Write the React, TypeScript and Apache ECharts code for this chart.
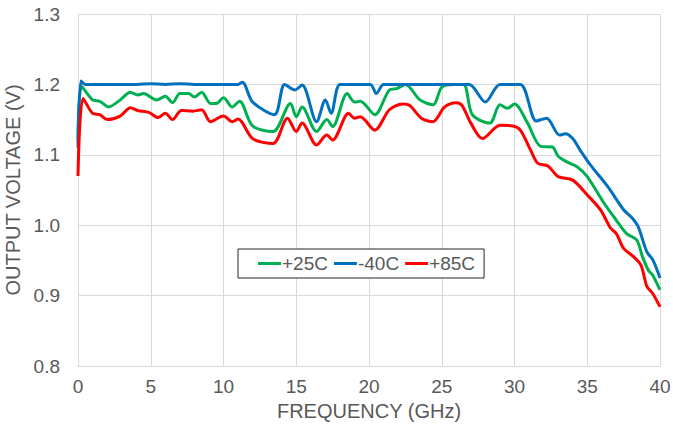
import React, { useEffect, useRef } from "react";
import * as echarts from "echarts";

const xTicks = [0, 5, 10, 15, 20, 25, 30, 35, 40];
const yTicks = [0.8, 0.9, 1.0, 1.1, 1.2, 1.3];

const freq25 = [0, 0.25, 1.0, 1.5, 2.1, 2.9, 3.6, 4.1, 4.5, 5.4, 6.0, 6.5, 7.0, 7.6, 8.0, 8.5, 9.1, 9.5, 10.0, 10.6, 11.1, 12.0, 13.4, 14.6, 15.0, 15.4, 16.4, 17.1, 17.5, 18.5, 19.0, 19.4, 20.4, 21.4, 21.9, 22.5, 23.5, 24.4, 25.0, 25.8, 26.5, 27.1, 28.3, 29.0, 29.5, 30.0, 30.9, 31.8, 32.6, 33.0, 33.6, 34.3, 35.0, 36.1, 37.0, 37.7, 38.4, 38.8, 39.2, 39.5, 40];
const volt25 = [1.12, 1.197, 1.178, 1.176, 1.168, 1.178, 1.189, 1.185, 1.187, 1.178, 1.183, 1.174, 1.187, 1.187, 1.182, 1.189, 1.173, 1.173, 1.181, 1.168, 1.176, 1.141, 1.133, 1.173, 1.154, 1.168, 1.133, 1.150, 1.140, 1.187, 1.175, 1.176, 1.157, 1.192, 1.194, 1.2, 1.178, 1.171, 1.196, 1.2, 1.2, 1.157, 1.145, 1.171, 1.166, 1.172, 1.145, 1.112, 1.111, 1.098, 1.090, 1.083, 1.069, 1.033, 1.007, 0.988, 0.979, 0.955, 0.936, 0.929, 0.908];

const freqM40 = [0, 0.2, 0.5, 1, 2, 3, 4, 5, 6, 7, 8, 9, 10, 11, 11.3, 12.0, 13.5, 14.2, 14.9, 15.4, 16.4, 17.0, 17.4, 18.0, 19, 20.1, 20.5, 21.0, 22, 23, 24, 25, 26.3, 26.9, 28.0, 29.0, 30.4, 31.5, 32.2, 33.1, 33.5, 34.0, 34.5, 35.2, 36.4, 37.5, 38.1, 38.5, 39.1, 39.5, 40];
const voltM40 = [1.11, 1.205, 1.2, 1.2, 1.2, 1.2, 1.2, 1.201, 1.2, 1.201, 1.2, 1.2, 1.2, 1.2, 1.203, 1.175, 1.157, 1.2, 1.192, 1.199, 1.147, 1.178, 1.159, 1.2, 1.2, 1.2, 1.187, 1.2, 1.2, 1.2, 1.2, 1.2, 1.2, 1.2, 1.175, 1.2, 1.2, 1.148, 1.152, 1.128, 1.130, 1.123, 1.107, 1.086, 1.055, 1.022, 1.010, 0.998, 0.962, 0.951, 0.925];

const freq85 = [0, 0.35, 1.0, 1.5, 2.0, 2.9, 3.6, 4.1, 4.9, 5.5, 6.0, 6.5, 7.1, 7.9, 8.5, 9.1, 10.0, 10.6, 11.0, 12.0, 13.4, 14.4, 15.0, 15.4, 16.4, 17.1, 17.5, 18.6, 19.0, 19.4, 20.4, 21.4, 22.3, 22.8, 23.6, 24.4, 25.2, 26.0, 26.4, 27.0, 27.8, 29.0, 29.9, 30.4, 31.1, 31.6, 32.3, 33.0, 34.0, 35.0, 35.9, 36.6, 37.0, 37.5, 38.2, 38.7, 39.1, 39.5, 40];
const volt85 = [1.07, 1.180, 1.159, 1.157, 1.150, 1.155, 1.167, 1.163, 1.160, 1.153, 1.159, 1.150, 1.163, 1.162, 1.164, 1.147, 1.155, 1.147, 1.151, 1.123, 1.116, 1.152, 1.133, 1.145, 1.114, 1.128, 1.121, 1.159, 1.152, 1.154, 1.135, 1.164, 1.172, 1.170, 1.152, 1.147, 1.168, 1.174, 1.170, 1.145, 1.123, 1.142, 1.141, 1.135, 1.107, 1.088, 1.084, 1.069, 1.064, 1.043, 1.022, 0.996, 0.988, 0.967, 0.955, 0.943, 0.913, 0.903, 0.884];

const seriesNames = ["+25C", "-40C", "+85C"];
const seriesColors = ["#00B050", "#0070C0", "#FF0000"];

const zip = (xs: number[], ys: number[]) => xs.map((x, i) => [x, ys[i]]);

export default function App() {
  const ref = useRef<HTMLDivElement>(null);
  useEffect(() => {
    document.body.style.margin = "0";
    const chart = echarts.init(ref.current!, null, { renderer: "svg" });
    const font = "'Liberation Sans', Arial, sans-serif";
    const gray = "#595959";
    const grid = "#d9d9d9";
    const datasets = [zip(freq25, volt25), zip(freqM40, voltM40), zip(freq85, volt85)];
    chart.setOption({
      animation: false,
      backgroundColor: "#ffffff",
      grid: { left: 78, right: 13, top: 14, bottom: 65, containLabel: false, outerBoundsMode: "none" },
      legend: {
        left: 238,
        top: 249,
        orient: "horizontal",
        data: seriesNames,
        icon: "rect",
        itemWidth: 23,
        itemHeight: 3,
        itemGap: 6,
        borderColor: "#262626",
        borderWidth: 1,
        backgroundColor: "#ffffff",
        padding: [5, 9, 5, 20],
        textStyle: { fontFamily: font, fontSize: 19, color: gray, padding: [0, 0, 0, -4] },
      },
      xAxis: {
        type: "value",
        min: xTicks[0],
        max: xTicks[xTicks.length - 1],
        interval: 5,
        name: "FREQUENCY (GHz)",
        nameLocation: "middle",
        nameGap: 35,
        nameTextStyle: { fontFamily: font, fontSize: 20, color: gray },
        axisLine: { show: true, lineStyle: { color: grid, width: 1 } },
        axisTick: { show: false },
        axisLabel: { fontFamily: font, fontSize: 19, color: gray, margin: 11 },
        splitLine: { show: true, lineStyle: { color: grid, width: 1 } },
      },
      yAxis: {
        type: "value",
        min: yTicks[0],
        max: yTicks[yTicks.length - 1],
        interval: 0.1,
        name: "OUTPUT VOLTAGE (V)",
        nameLocation: "middle",
        nameGap: 43,
        nameTextStyle: { fontFamily: font, fontSize: 20, color: gray },
        axisLine: { show: true, lineStyle: { color: grid, width: 1 } },
        axisTick: { show: false },
        axisLabel: {
          fontFamily: font,
          fontSize: 19,
          color: gray,
          margin: 18,
          formatter: (v: number) => v.toFixed(1),
        },
        splitLine: { show: true, lineStyle: { color: grid, width: 1 } },
      },
      series: datasets.map((d, i) => ({
        name: seriesNames[i],
        type: "line",
        data: d,
        smooth: 0.3,
        showSymbol: false,
        symbol: "none",
        lineStyle: { color: seriesColors[i], width: 3 },
        itemStyle: { color: seriesColors[i] },
      })),
    });
    return () => chart.dispose();
  }, []);
  return <div ref={ref} style={{ width: 673, height: 431 }} />;
}
